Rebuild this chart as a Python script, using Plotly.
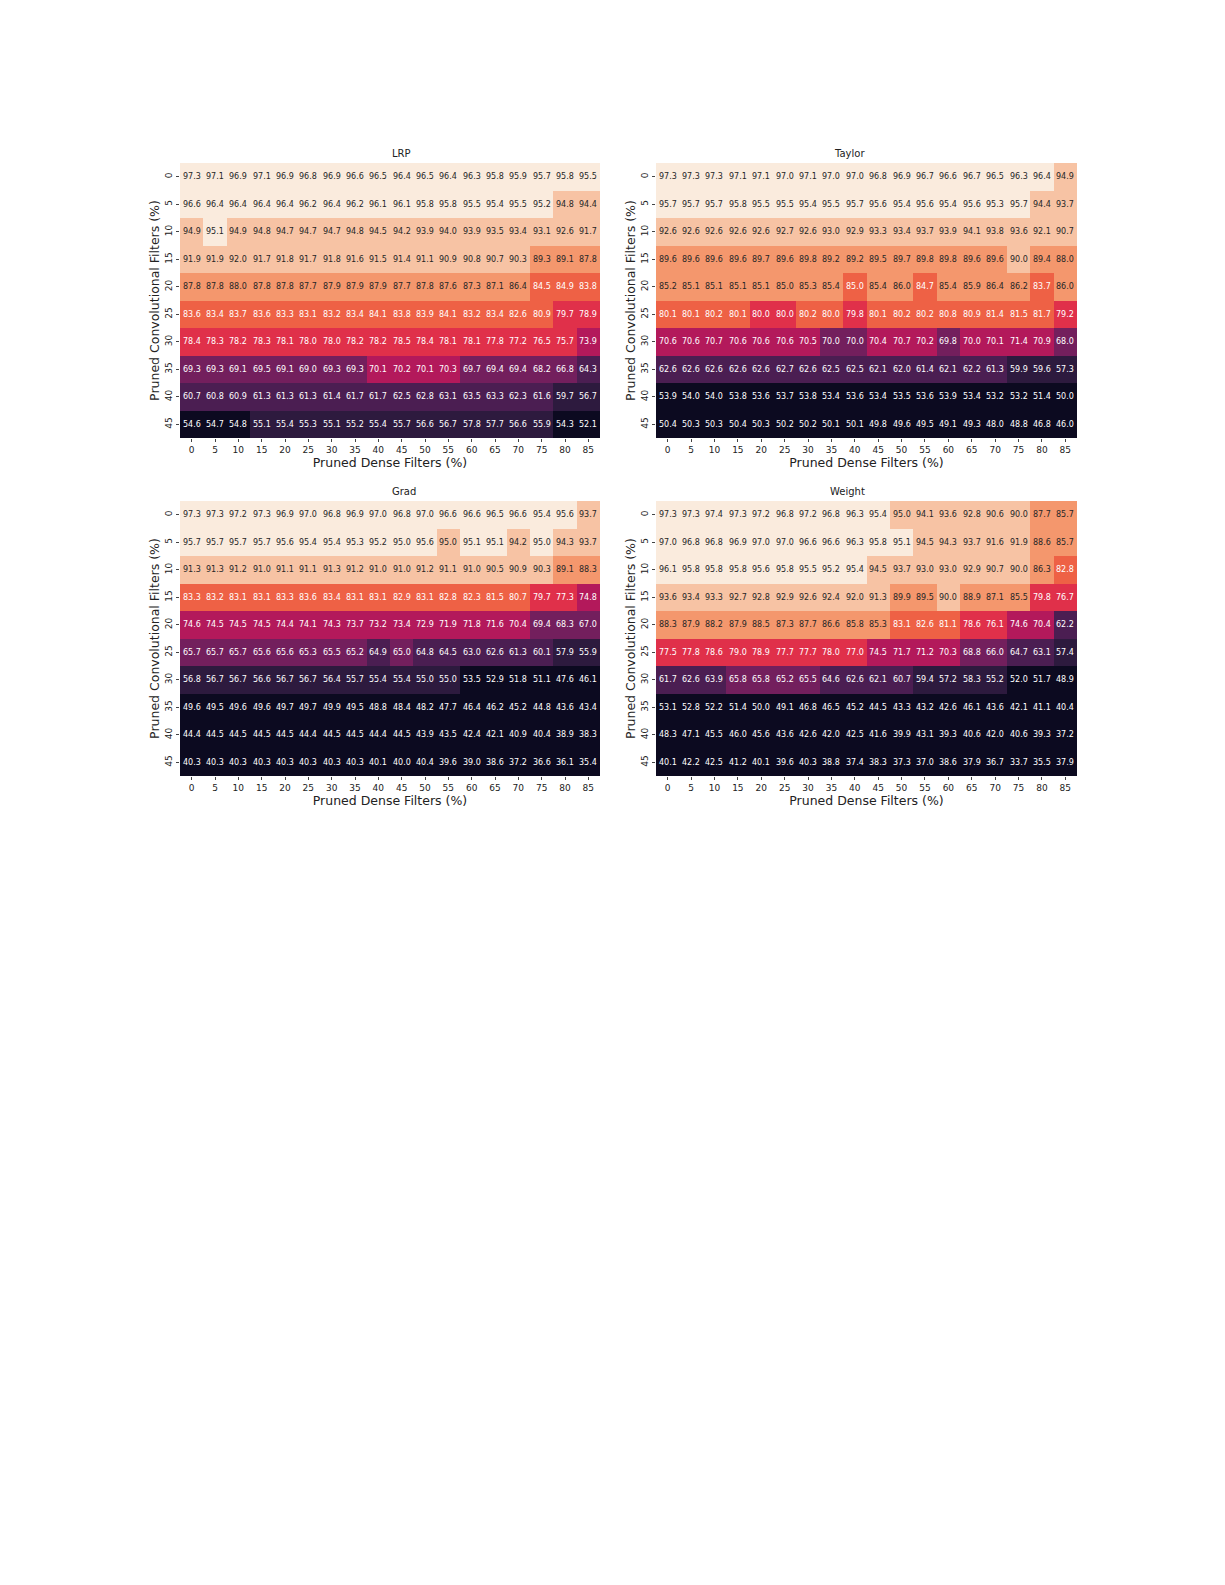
import plotly.graph_objects as go

dense = [0,5,10,15,20,25,30,35,40,45,50,55,60,65,70,75,80,85]
conv = [0,5,10,15,20,25,30,35,40,45]

lrp = [
[97.3,97.1,96.9,97.1,96.9,96.8,96.9,96.6,96.5,96.4,96.5,96.4,96.3,95.8,95.9,95.7,95.8,95.5],
[96.6,96.4,96.4,96.4,96.4,96.2,96.4,96.2,96.1,96.1,95.8,95.8,95.5,95.4,95.5,95.2,94.8,94.4],
[94.9,95.1,94.9,94.8,94.7,94.7,94.7,94.8,94.5,94.2,93.9,94.0,93.9,93.5,93.4,93.1,92.6,91.7],
[91.9,91.9,92.0,91.7,91.8,91.7,91.8,91.6,91.5,91.4,91.1,90.9,90.8,90.7,90.3,89.3,89.1,87.8],
[87.8,87.8,88.0,87.8,87.8,87.7,87.9,87.9,87.9,87.7,87.8,87.6,87.3,87.1,86.4,84.5,84.9,83.8],
[83.6,83.4,83.7,83.6,83.3,83.1,83.2,83.4,84.1,83.8,83.9,84.1,83.2,83.4,82.6,80.9,79.7,78.9],
[78.4,78.3,78.2,78.3,78.1,78.0,78.0,78.2,78.2,78.5,78.4,78.1,78.1,77.8,77.2,76.5,75.7,73.9],
[69.3,69.3,69.1,69.5,69.1,69.0,69.3,69.3,70.1,70.2,70.1,70.3,69.7,69.4,69.4,68.2,66.8,64.3],
[60.7,60.8,60.9,61.3,61.3,61.3,61.4,61.7,61.7,62.5,62.8,63.1,63.5,63.3,62.3,61.6,59.7,56.7],
[54.6,54.7,54.8,55.1,55.4,55.3,55.1,55.2,55.4,55.7,56.6,56.7,57.8,57.7,56.6,55.9,54.3,52.1]]

taylor = [
[97.3,97.3,97.3,97.1,97.1,97.0,97.1,97.0,97.0,96.8,96.9,96.7,96.6,96.7,96.5,96.3,96.4,94.9],
[95.7,95.7,95.7,95.8,95.5,95.5,95.4,95.5,95.7,95.6,95.4,95.6,95.4,95.6,95.3,95.7,94.4,93.7],
[92.6,92.6,92.6,92.6,92.6,92.7,92.6,93.0,92.9,93.3,93.4,93.7,93.9,94.1,93.8,93.6,92.1,90.7],
[89.6,89.6,89.6,89.6,89.7,89.6,89.8,89.2,89.2,89.5,89.7,89.8,89.8,89.6,89.6,90.0,89.4,88.0],
[85.2,85.1,85.1,85.1,85.1,85.0,85.3,85.4,84.99,85.4,86.0,84.7,85.4,85.9,86.4,86.2,83.7,86.0],
[80.1,80.1,80.2,80.1,79.99,79.99,80.2,80.0,79.8,80.1,80.2,80.2,80.8,80.9,81.4,81.5,81.7,79.2],
[70.6,70.6,70.7,70.6,70.6,70.6,70.5,69.99,69.99,70.4,70.7,70.2,69.8,70.0,70.1,71.4,70.9,68.0],
[62.6,62.6,62.6,62.6,62.6,62.7,62.6,62.5,62.5,62.1,62.0,61.4,62.1,62.2,61.3,59.9,59.6,57.3],
[53.9,54.0,54.0,53.8,53.6,53.7,53.8,53.4,53.6,53.4,53.5,53.6,53.9,53.4,53.2,53.2,51.4,50.0],
[50.4,50.3,50.3,50.4,50.3,50.2,50.2,50.1,50.1,49.8,49.6,49.5,49.1,49.3,48.0,48.8,46.8,46.0]]

grad = [
[97.3,97.3,97.2,97.3,96.9,97.0,96.8,96.9,97.0,96.8,97.0,96.6,96.6,96.5,96.6,95.4,95.6,93.7],
[95.7,95.7,95.7,95.7,95.6,95.4,95.4,95.3,95.2,95.0,95.6,94.99,95.1,95.1,94.2,95.0,94.3,93.7],
[91.3,91.3,91.2,91.0,91.1,91.1,91.3,91.2,91.0,91.0,91.2,91.1,91.0,90.5,90.9,90.3,89.1,88.3],
[83.3,83.2,83.1,83.1,83.3,83.6,83.4,83.1,83.1,82.9,83.1,82.8,82.3,81.5,80.7,79.7,77.3,74.8],
[74.6,74.5,74.5,74.5,74.4,74.1,74.3,73.7,73.2,73.4,72.9,71.9,71.8,71.6,70.4,69.4,68.3,67.0],
[65.7,65.7,65.7,65.6,65.6,65.3,65.5,65.2,64.9,65.0,64.8,64.5,63.0,62.6,61.3,60.1,57.9,55.9],
[56.8,56.7,56.7,56.6,56.7,56.7,56.4,55.7,55.4,55.4,55.0,55.0,53.5,52.9,51.8,51.1,47.6,46.1],
[49.6,49.5,49.6,49.6,49.7,49.7,49.9,49.5,48.8,48.4,48.2,47.7,46.4,46.2,45.2,44.8,43.6,43.4],
[44.4,44.5,44.5,44.5,44.5,44.4,44.5,44.5,44.4,44.5,43.9,43.5,42.4,42.1,40.9,40.4,38.9,38.3],
[40.3,40.3,40.3,40.3,40.3,40.3,40.3,40.3,40.1,40.0,40.4,39.6,39.0,38.6,37.2,36.6,36.1,35.4]]

weight = [
[97.3,97.3,97.4,97.3,97.2,96.8,97.2,96.8,96.3,95.4,94.99,94.1,93.6,92.8,90.6,90.0,87.7,85.7],
[97.0,96.8,96.8,96.9,97.0,97.0,96.6,96.6,96.3,95.8,95.1,94.5,94.3,93.7,91.6,91.9,88.6,85.7],
[96.1,95.8,95.8,95.8,95.6,95.8,95.5,95.2,95.4,94.5,93.7,93.0,93.0,92.9,90.7,90.0,86.3,82.8],
[93.6,93.4,93.3,92.7,92.8,92.9,92.6,92.4,92.0,91.3,89.9,89.5,90.0,88.9,87.1,85.5,79.8,76.7],
[88.3,87.9,88.2,87.9,88.5,87.3,87.7,86.6,85.8,85.3,83.1,82.6,81.1,78.6,76.1,74.6,70.4,62.2],
[77.5,77.8,78.6,79.0,78.9,77.7,77.7,78.0,77.0,74.5,71.7,71.2,70.3,68.8,66.0,64.7,63.1,57.4],
[61.7,62.6,63.9,65.8,65.8,65.2,65.5,64.6,62.6,62.1,60.7,59.4,57.2,58.3,55.2,52.0,51.7,48.9],
[53.1,52.8,52.2,51.4,50.0,49.1,46.8,46.5,45.2,44.5,43.3,43.2,42.6,46.1,43.6,42.1,41.1,40.4],
[48.3,47.1,45.5,46.0,45.6,43.6,42.6,42.0,42.5,41.6,39.9,43.1,39.3,40.6,42.0,40.6,39.3,37.2],
[40.1,42.2,42.5,41.2,40.1,39.6,40.3,38.8,37.4,38.3,37.3,37.0,38.6,37.9,36.7,33.7,35.5,37.9]]

titles = ["LRP", "Taylor", "Grad", "Weight"]
panels = [lrp, taylor, grad, weight]

bin_colors = ["#0c0a20", "#2d1a3e", "#4b1e52", "#731f5d", "#b3195b",
              "#e0304a", "#ee6145", "#f4976d", "#f7c3a4", "#faebdd"]
cs = []
for i, c in enumerate(bin_colors):
    cs.append([i / 10, c]); cs.append([(i + 1) / 10, c])

W, H = 1225, 1585
xdoms = [[172/W, 592/W], [648/W, 1069/W]]
ydoms = [[1-430/H, 1-155/H], [1-768/H, 1-493/H]]

fig = go.Figure()
annots = []
layout_axes = {}
for k, (z, t) in enumerate(zip(panels, titles)):
    r, c = divmod(k, 2)
    n = k + 1
    xa = "x" if n == 1 else f"x{n}"
    ya = "y" if n == 1 else f"y{n}"
    fig.add_trace(go.Heatmap(z=z, x=dense, y=conv,
                             colorscale=cs, zmin=50, zmax=100, showscale=False,
                             xaxis=xa, yaxis=ya, hoverinfo="skip"))
    for i, row in enumerate(z):
        for j, v in enumerate(row):
            annots.append(dict(x=dense[j], y=conv[i], xref=xa, yref=ya,
                               text=f"{v:.1f}", showarrow=False,
                               font=dict(size=8, color="#262626" if v >= 85 else "white")))
    annots.append(dict(x=sum(xdoms[c])/2, y=ydoms[r][1], xref="paper", yref="paper",
                       text=t, showarrow=False, yanchor="bottom", yshift=2,
                       font=dict(size=10, color="#222")))
    suffix = "" if n == 1 else str(n)
    layout_axes["xaxis" + suffix] = dict(
        domain=xdoms[c], anchor=ya, range=[-2.5, 87.5], tickvals=dense,
        ticktext=[str(d) for d in dense], ticks="outside", ticklen=3,
        tickfont=dict(size=9, color="#222"), showgrid=False, zeroline=False,
        title=dict(text="Pruned Dense Filters (%)", font=dict(size=12.5, color="#222"), standoff=2))
    layout_axes["yaxis" + suffix] = dict(
        domain=ydoms[r], anchor=xa, range=[47.5, -2.5], tickvals=conv,
        ticktext=[str(v) for v in conv], ticks="outside", ticklen=3, tickangle=-90,
        tickfont=dict(size=9, color="#222"), showgrid=False, zeroline=False,
        title=dict(text="Pruned Convolutional Filters (%)", font=dict(size=12.5, color="#222"), standoff=2))

fig.update_layout(width=W, height=H, margin=dict(l=0, r=0, t=0, b=0),
                  paper_bgcolor="white", plot_bgcolor="white",
                  font=dict(family="DejaVu Sans"), annotations=annots, **layout_axes)
fig.write_html("out.html")
